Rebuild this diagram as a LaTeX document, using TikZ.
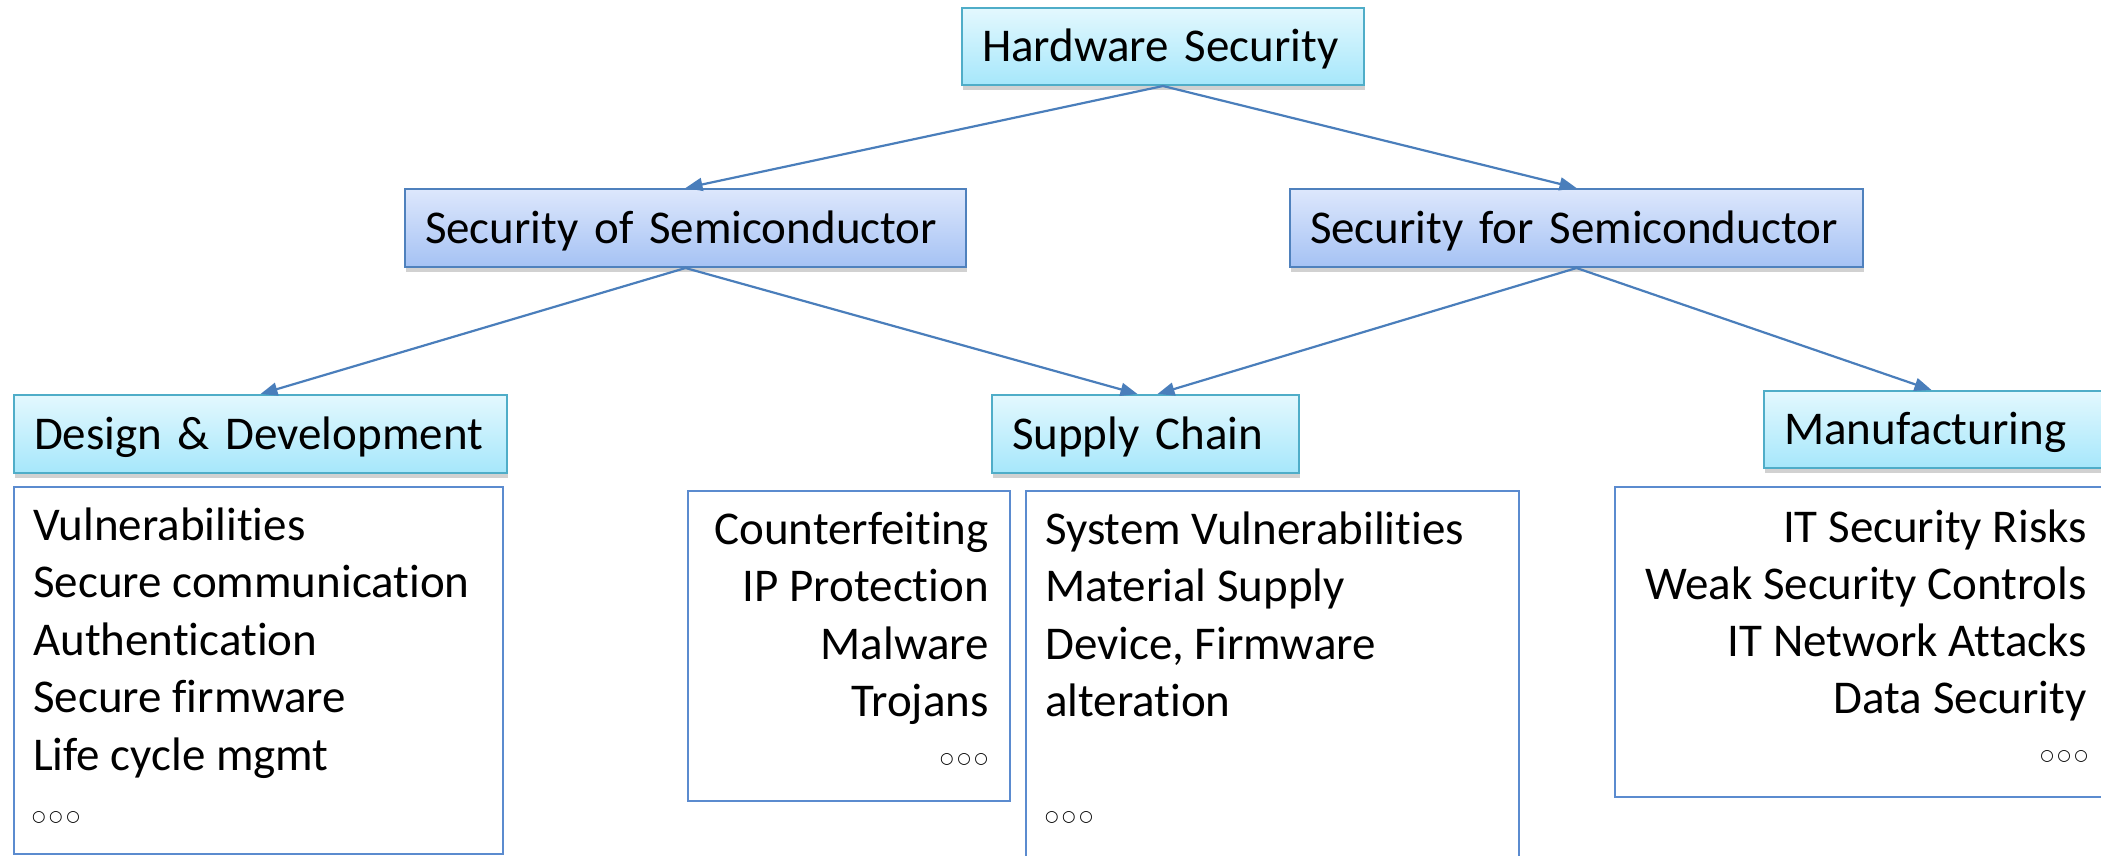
\documentclass[tikz,border=0pt]{standalone}
\usepackage{fontspec}
\setmainfont{Carlito}[Ligatures=NoCommon]
\newfontfamily\dejavu{DejaVu Sans}
\usetikzlibrary{arrows.meta,shadows,calc}
\definecolor{cyanTop}{HTML}{E3F8FE}
\definecolor{cyanBot}{HTML}{A6E7FB}
\definecolor{cyanLine}{HTML}{4FADC8}
\definecolor{blueTop}{HTML}{DDE7FC}
\definecolor{blueBot}{HTML}{A5C2F4}
\definecolor{blueLine}{HTML}{4F81BD}
\definecolor{boxLine}{HTML}{5B8BCF}
\definecolor{arrowCol}{HTML}{4A7EBB}
\newcommand{\rings}{○\hspace{3.5pt}○\hspace{3.5pt}○}
\begin{document}
\begin{tikzpicture}[x=1pt,y=-1pt,
  every node/.style={font=\fontsize{47}{57.5}\selectfont, inner sep=0pt},
  hdr/.style={draw=cyanLine, line width=2pt, top color=cyanTop, bottom color=cyanBot,
    drop shadow={shadow xshift=1pt, shadow yshift=-5pt, opacity=0.3, fill=black!60},
    anchor=north west, align=left, text height=30pt, text depth=0pt,
    inner xsep=20pt, minimum height=78pt},
  mid/.style={hdr, draw=blueLine, top color=blueTop, bottom color=blueBot},
  cbox/.style={draw=boxLine, line width=2pt, anchor=north west},
  item/.style={anchor=base west},
  itemr/.style={anchor=base east},
  dots/.style={font=\dejavu\fontsize{15.5}{20}\selectfont},
  conn/.style={draw=arrowCol, line width=2.2pt, -{Triangle[length=17pt,width=13pt]}}
]
\useasboundingbox (0,0) rectangle (2101,855);

% header boxes
\node[hdr, text width=362pt, minimum height=77pt] (hs) at (961,7) {Hardware Security};
\node[mid, text width=521pt] (sos) at (404,188) {Security of Semiconductor};
\node[mid, text width=533pt] (sfs) at (1289,188) {Security for Semiconductor};
\node[hdr, text width=453pt] (dd) at (13,394) {Design \& Development};
\node[hdr, text width=267pt] (sc) at (991,394) {Supply Chain};
\node[hdr, text width=301pt, minimum height=77pt] (mf) at (1763,390) {Manufacturing};

% connectors
\draw[conn] (hs.south) -- (sos.north);
\draw[conn] (hs.south) -- (sfs.north);
\draw[conn] (sos.south) -- (dd.north);
\draw[conn] (sos.south) -- ($(sc.north)+(-8,0)$);
\draw[conn] (sfs.south) -- ($(sc.north)+(12,0)$);
\draw[conn] (sfs.south) -- ($(mf.north)+(-3,0)$);

% content boxes
\node[cbox, minimum width=489pt, minimum height=367pt] (ddl) at (13,486) {};
\node[cbox, minimum width=322pt, minimum height=310pt] (scl) at (687,490) {};
\node[cbox, minimum width=493pt, minimum height=390pt] (scr) at (1025,490) {};
\node[cbox, minimum width=500pt, minimum height=310pt] (mfl) at (1614,486) {};

% Design & Development list
\node[item] (dd1) at (33,540) {Vulnerabilities};
\node[item] (dd2) at (33,597.5) {Secure communication};
\node[item] (dd3) at (33,655) {Authentication};
\node[item] (dd4) at (33,712.5) {Secure firmware};
\node[item] (dd5) at (33,770) {Life cycle mgmt};
\node[dots, anchor=west] (dd6) at (32,817) {\rings};

% Supply chain left list
\node[itemr] (sl1) at (989,544) {Counterfeiting};
\node[itemr] (sl2) at (989,601.5) {IP Protection};
\node[itemr] (sl3) at (989,659) {Malware};
\node[itemr] (sl4) at (989,716.5) {Trojans};
\node[dots, anchor=east] (sl5) at (988,759) {\rings};

% Supply chain right list
\node[item] (sr1) at (1045,544) {System Vulnerabilities};
\node[item] (sr2) at (1045,601.5) {Material Supply};
\node[item] (sr3) at (1045,659) {Device, Firmware};
\node[item] (sr4) at (1045,716.5) {alteration};
\node[dots, anchor=west] (sr5) at (1045,817) {\rings};

% Manufacturing list
\node[itemr] (mf1) at (2087,542) {IT Security Risks};
\node[itemr] (mf2) at (2087,599) {Weak Security Controls};
\node[itemr] (mf3) at (2087,656) {IT Network Attacks};
\node[itemr] (mf4) at (2087,713) {Data Security};
\node[dots, anchor=east] (mf5) at (2088,756) {\rings};
\end{tikzpicture}
\end{document}
